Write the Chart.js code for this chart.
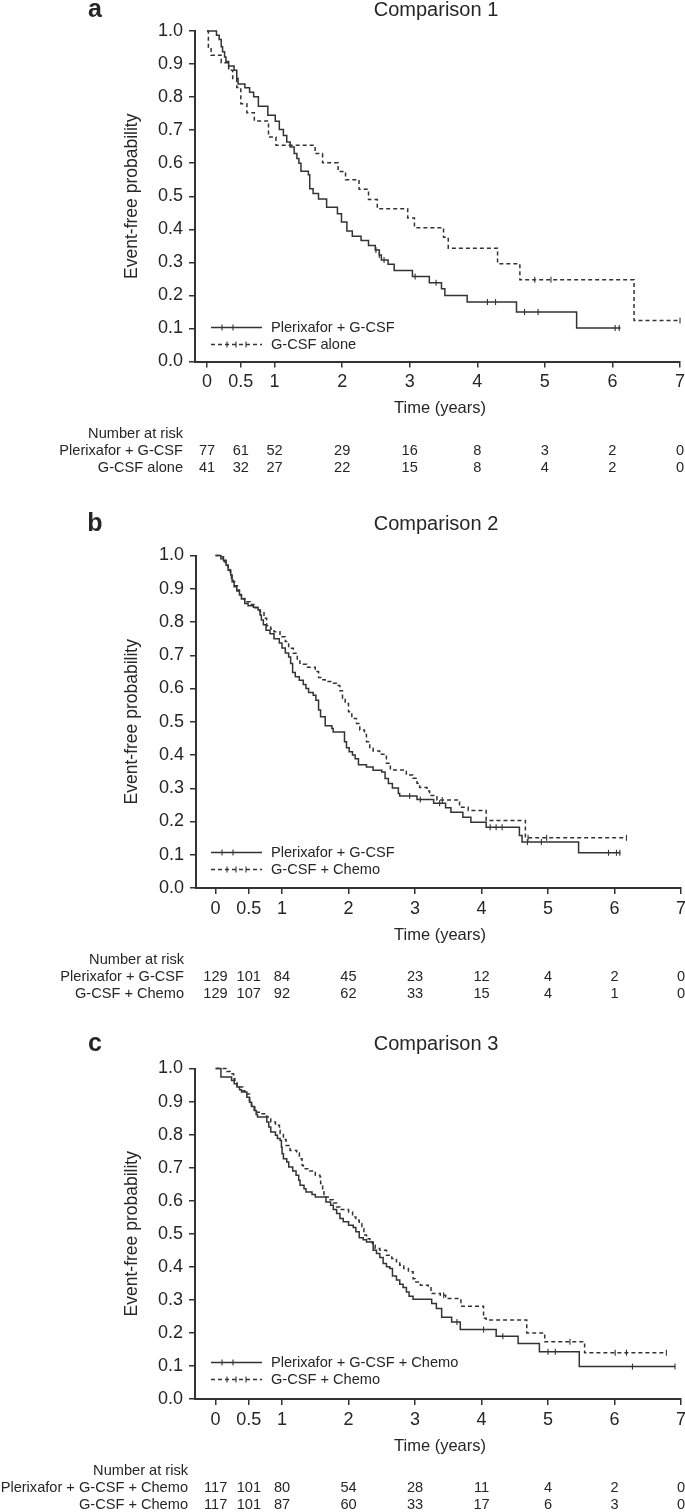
<!DOCTYPE html>
<html>
<head>
<meta charset="utf-8">
<script src="https://cdn.jsdelivr.net/npm/chart.js@4.4.1/dist/chart.umd.min.js"></script>
<style>
  body { margin: 0; background: #fff; }
  #wrap { width: 685px; height: 1512px; }
  canvas { display: block; }
</style>
</head>
<body>
<div id="wrap">
  <canvas id="panelA" width="685" height="500"></canvas>
  <canvas id="panelB" width="685" height="505"></canvas>
  <canvas id="panelC" width="685" height="507"></canvas>
</div>
<script>
const FONT = "'Liberation Sans', Arial, Helvetica, sans-serif";
const INK = '#262626';
const LINE = '#333';

// Time points used for x ticks and number-at-risk columns
const riskTimes = [0, 0.5, 1, 2, 3, 4, 5, 6, 7];

// Comparison 1
const aPlxTimes = [0, 0.14, 0.18, 0.21, 0.23, 0.26, 0.28, 0.32, 0.40, 0.44, 0.46, 0.56, 0.63, 0.69, 0.76, 0.90, 1.01, 1.07, 1.13, 1.18, 1.23, 1.29, 1.33, 1.36, 1.39, 1.50, 1.52, 1.57, 1.65, 1.77, 1.93, 1.99, 2.07, 2.15, 2.28, 2.39, 2.49, 2.55, 2.58, 2.68, 2.77, 3.04, 3.29, 3.47, 3.52, 3.85, 4.58, 5.47, 6.12];
const aPlxSurv = [1.0, 0.987, 0.974, 0.952, 0.937, 0.921, 0.908, 0.894, 0.881, 0.856, 0.840, 0.828, 0.815, 0.801, 0.772, 0.745, 0.727, 0.702, 0.684, 0.664, 0.649, 0.629, 0.614, 0.600, 0.576, 0.565, 0.523, 0.508, 0.492, 0.467, 0.447, 0.422, 0.395, 0.379, 0.366, 0.351, 0.337, 0.322, 0.307, 0.294, 0.275, 0.257, 0.238, 0.220, 0.200, 0.180, 0.150, 0.101, 0.101];
const aPlxCensored = [2.50, 2.55, 2.62, 3.08, 3.39, 4.15, 4.27, 4.70, 4.90, 6.04, 6.10];
const aCtlTimes = [0, 0.02, 0.06, 0.21, 0.32, 0.38, 0.44, 0.50, 0.59, 0.70, 0.91, 1.02, 1.60, 1.71, 1.94, 2.05, 2.25, 2.39, 2.52, 2.97, 3.07, 3.50, 3.57, 4.30, 4.63, 6.32, 7.0];
const aCtlSurv = [1.0, 0.951, 0.927, 0.904, 0.881, 0.856, 0.829, 0.780, 0.753, 0.728, 0.679, 0.654, 0.629, 0.601, 0.575, 0.550, 0.521, 0.490, 0.462, 0.434, 0.405, 0.376, 0.343, 0.296, 0.247, 0.124, 0.124];
const aCtlCensored = [4.85, 5.09, 7.0];
const aPlxRisk = [77, 61, 52, 29, 16, 8, 3, 2, 0];
const aCtlRisk = [41, 32, 27, 22, 15, 8, 4, 2, 0];

// Comparison 2
const bPlxTimes = [0, 0.08, 0.12, 0.16, 0.19, 0.23, 0.25, 0.28, 0.32, 0.36, 0.39, 0.44, 0.49, 0.57, 0.64, 0.67, 0.69, 0.72, 0.76, 0.82, 0.88, 0.96, 1.00, 1.05, 1.10, 1.13, 1.16, 1.20, 1.26, 1.32, 1.36, 1.40, 1.47, 1.51, 1.55, 1.58, 1.65, 1.75, 1.77, 1.94, 1.97, 2.01, 2.06, 2.10, 2.15, 2.27, 2.37, 2.50, 2.55, 2.60, 2.66, 2.75, 2.77, 3.03, 3.28, 3.46, 3.54, 3.72, 3.84, 4.07, 4.57, 4.61, 5.46, 6.09];
const bPlxSurv = [1.0, 0.996, 0.986, 0.971, 0.956, 0.941, 0.921, 0.906, 0.893, 0.881, 0.869, 0.856, 0.849, 0.844, 0.836, 0.821, 0.806, 0.792, 0.775, 0.765, 0.750, 0.737, 0.722, 0.707, 0.695, 0.675, 0.648, 0.635, 0.625, 0.612, 0.600, 0.588, 0.580, 0.565, 0.535, 0.515, 0.488, 0.480, 0.469, 0.440, 0.422, 0.410, 0.400, 0.389, 0.371, 0.364, 0.354, 0.349, 0.329, 0.314, 0.301, 0.284, 0.277, 0.266, 0.255, 0.241, 0.228, 0.213, 0.198, 0.183, 0.158, 0.138, 0.106, 0.106];
const bPlxCensored = [2.92, 3.08, 3.37, 4.13, 4.22, 4.31, 4.69, 4.90, 5.91, 6.03, 6.08];
const bCtlTimes = [0, 0.08, 0.13, 0.15, 0.19, 0.22, 0.24, 0.27, 0.29, 0.33, 0.36, 0.39, 0.44, 0.52, 0.59, 0.67, 0.73, 0.77, 0.83, 0.88, 0.97, 1.05, 1.10, 1.17, 1.23, 1.27, 1.37, 1.50, 1.55, 1.60, 1.65, 1.75, 1.82, 1.87, 1.91, 1.95, 2.00, 2.05, 2.12, 2.17, 2.24, 2.27, 2.32, 2.37, 2.47, 2.57, 2.63, 2.87, 2.97, 3.03, 3.07, 3.18, 3.22, 3.33, 3.67, 3.80, 4.07, 4.66, 6.18];
const bCtlSurv = [1.0, 0.990, 0.982, 0.971, 0.961, 0.946, 0.931, 0.921, 0.909, 0.896, 0.883, 0.871, 0.861, 0.853, 0.843, 0.831, 0.811, 0.789, 0.779, 0.771, 0.756, 0.741, 0.721, 0.706, 0.683, 0.673, 0.664, 0.651, 0.633, 0.626, 0.621, 0.616, 0.609, 0.593, 0.570, 0.555, 0.530, 0.510, 0.495, 0.475, 0.462, 0.440, 0.420, 0.412, 0.402, 0.375, 0.355, 0.340, 0.330, 0.315, 0.302, 0.292, 0.278, 0.265, 0.243, 0.233, 0.203, 0.151, 0.151];
const bCtlCensored = [3.41, 4.70, 4.98, 6.18];
const bPlxRisk = [129, 101, 84, 45, 23, 12, 4, 2, 0];
const bCtlRisk = [129, 107, 92, 62, 33, 15, 4, 1, 0];

// Comparison 3
const cPlxTimes = [0, 0.08, 0.24, 0.28, 0.32, 0.36, 0.39, 0.47, 0.51, 0.54, 0.58, 0.61, 0.63, 0.77, 0.80, 0.83, 0.90, 0.93, 0.97, 0.99, 1.00, 1.02, 1.07, 1.10, 1.16, 1.21, 1.25, 1.27, 1.33, 1.36, 1.45, 1.50, 1.66, 1.73, 1.77, 1.82, 1.87, 1.92, 2.00, 2.07, 2.11, 2.16, 2.22, 2.27, 2.37, 2.42, 2.47, 2.52, 2.57, 2.62, 2.66, 2.72, 2.77, 2.82, 2.87, 2.91, 2.97, 3.25, 3.32, 3.40, 3.55, 3.68, 4.22, 4.55, 4.87, 5.47, 6.91];
const cPlxSurv = [1.0, 0.974, 0.964, 0.954, 0.944, 0.936, 0.929, 0.913, 0.898, 0.885, 0.873, 0.861, 0.853, 0.838, 0.823, 0.808, 0.798, 0.788, 0.782, 0.762, 0.742, 0.727, 0.717, 0.702, 0.690, 0.677, 0.662, 0.647, 0.636, 0.626, 0.619, 0.611, 0.596, 0.586, 0.573, 0.561, 0.546, 0.536, 0.526, 0.519, 0.506, 0.488, 0.482, 0.475, 0.450, 0.440, 0.428, 0.410, 0.400, 0.395, 0.372, 0.360, 0.347, 0.337, 0.324, 0.311, 0.302, 0.289, 0.274, 0.247, 0.233, 0.210, 0.190, 0.168, 0.143, 0.098, 0.098];
const cPlxCensored = [3.63, 4.03, 4.32, 5.00, 5.11, 6.27, 6.91];
const cCtlTimes = [0, 0.17, 0.22, 0.27, 0.29, 0.32, 0.36, 0.41, 0.44, 0.51, 0.54, 0.59, 0.62, 0.67, 0.77, 0.83, 0.90, 0.96, 0.97, 1.02, 1.06, 1.12, 1.22, 1.26, 1.30, 1.32, 1.40, 1.50, 1.57, 1.58, 1.61, 1.63, 1.72, 1.77, 1.82, 1.87, 2.00, 2.06, 2.11, 2.16, 2.20, 2.23, 2.27, 2.32, 2.36, 2.40, 2.47, 2.57, 2.65, 2.72, 2.77, 2.83, 2.90, 2.97, 3.00, 3.08, 3.20, 3.24, 3.38, 3.46, 3.69, 4.03, 4.07, 4.68, 4.95, 5.55, 6.78];
const cCtlSurv = [1.0, 0.991, 0.984, 0.969, 0.958, 0.950, 0.944, 0.933, 0.923, 0.903, 0.888, 0.875, 0.868, 0.863, 0.853, 0.838, 0.828, 0.813, 0.803, 0.785, 0.767, 0.752, 0.744, 0.727, 0.707, 0.697, 0.690, 0.677, 0.672, 0.652, 0.627, 0.611, 0.603, 0.593, 0.581, 0.573, 0.566, 0.551, 0.541, 0.531, 0.516, 0.496, 0.485, 0.475, 0.465, 0.455, 0.450, 0.435, 0.425, 0.415, 0.405, 0.395, 0.385, 0.364, 0.354, 0.344, 0.339, 0.319, 0.314, 0.304, 0.281, 0.244, 0.239, 0.200, 0.173, 0.140, 0.140];
const cCtlCensored = [3.43, 5.33, 6.01, 6.18, 6.78];
const cPlxRisk = [117, 101, 80, 54, 28, 11, 4, 2, 0];
const cCtlRisk = [117, 101, 87, 60, 33, 17, 6, 3, 0];

function stepValue(times, surv, t) {
    let v = surv[0];
    for (let i = 0; i < times.length; i++) {
        if (times[i] <= t) v = surv[i];
    }
    return v;
}

function kmPoints(times, surv) {
    return times.map((t, i) => ({ x: t, y: surv[i] }));
}

function censorPoints(times, surv, cens) {
    return cens.map(c => ({ x: c, y: stepValue(times, surv, c) }));
}

// Draws panel letter, title, axis titles, in-plot legend and the number-at-risk table
function makeDecor(p) {
    return {
        id: 'panelDecor',
        afterDraw(chart) {
            const ctx = chart.ctx;
            const area = chart.chartArea;
            const xs = chart.scales.x;
            ctx.save();
            ctx.fillStyle = INK;
            ctx.textBaseline = 'middle';

            ctx.textAlign = 'center';
            ctx.font = `bold 25px ${FONT}`;
            ctx.fillText(p.letter, 95, p.titleY);
            ctx.font = `20px ${FONT}`;
            ctx.fillText(p.title, 436, p.titleY);

            ctx.font = `16.5px ${FONT}`;
            ctx.fillText('Time (years)', 440, area.bottom + 47);

            ctx.save();
            ctx.translate(132, (area.top + area.bottom) / 2);
            ctx.rotate(-Math.PI / 2);
            ctx.font = `17.5px ${FONT}`;
            ctx.fillText('Event-free probability', 0, 0);
            ctx.restore();

            // legend
            ctx.font = `14.6px ${FONT}`;
            ctx.textAlign = 'left';
            ctx.strokeStyle = LINE;
            p.legend.forEach((label, i) => {
                const y = Math.round(area.bottom + p.legendOffset + i * 17) + 0.5;
                ctx.lineWidth = 1.4;
                ctx.setLineDash(i === 0 ? [] : [4, 3]);
                ctx.beginPath();
                ctx.moveTo(211, y);
                ctx.lineTo(262, y);
                ctx.stroke();
                ctx.setLineDash([]);
                ctx.lineWidth = 1.1;
                const marks = i === 0 ? [222, 233] : [227, 236, 246];
                marks.forEach(mx => {
                    ctx.beginPath();
                    ctx.moveTo(mx, y - 3);
                    ctx.lineTo(mx, y + 3);
                    ctx.stroke();
                });
                ctx.fillText(label, 271, y);
            });

            // number at risk
            ctx.font = `14.6px ${FONT}`;
            ctx.textAlign = 'right';
            ctx.fillText('Number at risk', p.tableRight, area.bottom + 72);
            p.rows.forEach((row, r) => {
                const y = area.bottom + 89 + r * 17;
                ctx.textAlign = 'right';
                ctx.fillText(row.label, p.tableRight, y);
                ctx.textAlign = 'center';
                row.counts.forEach((n, i) => {
                    ctx.fillText(String(n), xs.getPixelForValue(riskTimes[i]), y);
                });
            });
            ctx.restore();
        }
    };
}

function buildPanel(id, p) {
    const canvas = document.getElementById(id);
    const W = canvas.width;
    const H = canvas.height;
    const axisGrid = {
        drawOnChartArea: false,
        drawTicks: true,
        tickLength: 6,
        color: LINE,
        lineWidth: 1.5
    };
    const axisBorder = { display: true, color: LINE, width: 2 };
    const censorStyle = {
        showLine: false,
        pointStyle: 'line',
        pointRotation: 90,
        pointRadius: 3,
        pointBorderColor: LINE,
        pointBorderWidth: 1.1,
        clip: false
    };

    return new Chart(canvas, {
        type: 'line',
        data: {
            datasets: [
                {
                    label: p.legend[0],
                    data: kmPoints(p.solidT, p.solidS),
                    stepped: true,
                    borderColor: LINE,
                    borderWidth: 1.5,
                    pointRadius: 0,
                    fill: false,
                    clip: false
                },
                {
                    label: p.legend[1],
                    data: kmPoints(p.dashT, p.dashS),
                    stepped: true,
                    borderColor: LINE,
                    borderWidth: 1.5,
                    borderDash: [4, 3],
                    pointRadius: 0,
                    fill: false,
                    clip: false
                },
                Object.assign({ data: censorPoints(p.solidT, p.solidS, p.solidC) }, censorStyle),
                Object.assign({ data: censorPoints(p.dashT, p.dashS, p.dashC) }, censorStyle)
            ]
        },
        options: {
            responsive: false,
            animation: false,
            events: [],
            layout: {
                autoPadding: false,
                padding: { left: 0, top: p.top, right: W - p.right, bottom: 0 }
            },
            plugins: {
                legend: { display: false },
                tooltip: { enabled: false }
            },
            scales: {
                x: {
                    type: 'linear',
                    min: p.xMin,
                    max: 7,
                    afterFit: s => {
                        s.height = H - p.bottom;
                        s.paddingLeft = 0;
                        s.paddingRight = 0;
                    },
                    afterBuildTicks: s => { s.ticks = riskTimes.map(v => ({ value: v })); },
                    grid: axisGrid,
                    border: axisBorder,
                    ticks: {
                        autoSkip: false,
                        maxRotation: 0,
                        padding: 4,
                        color: INK,
                        font: { family: FONT, size: 18 },
                        callback: v => String(v)
                    }
                },
                y: {
                    min: 0,
                    max: 1,
                    afterFit: s => {
                        s.width = p.left;
                        s.paddingTop = 0;
                        s.paddingBottom = 0;
                    },
                    grid: axisGrid,
                    border: axisBorder,
                    ticks: {
                        stepSize: 0.1,
                        padding: 6,
                        color: INK,
                        font: { family: FONT, size: 18 },
                        callback: v => v.toFixed(1)
                    }
                }
            }
        },
        plugins: [makeDecor(p)]
    });
}

buildPanel('panelA', {
    letter: 'a', title: 'Comparison 1', titleY: 10,
    top: 31, bottom: 361.5, left: 195, right: 680, xMin: -0.178, tableRight: 183, legendOffset: -35,
    solidT: aPlxTimes, solidS: aPlxSurv, solidC: aPlxCensored,
    dashT: aCtlTimes, dashS: aCtlSurv, dashC: aCtlCensored,
    legend: ['Plerixafor + G-CSF', 'G-CSF alone'],
    rows: [
        { label: 'Plerixafor + G-CSF', counts: aPlxRisk },
        { label: 'G-CSF alone', counts: aCtlRisk }
    ]
});

buildPanel('panelB', {
    letter: 'b', title: 'Comparison 2', titleY: 24,
    top: 55.5, bottom: 388, left: 196, right: 681, xMin: -0.293, tableRight: 184, legendOffset: -36,
    solidT: bPlxTimes, solidS: bPlxSurv, solidC: bPlxCensored,
    dashT: bCtlTimes, dashS: bCtlSurv, dashC: bCtlCensored,
    legend: ['Plerixafor + G-CSF', 'G-CSF + Chemo'],
    rows: [
        { label: 'Plerixafor + G-CSF', counts: bPlxRisk },
        { label: 'G-CSF + Chemo', counts: bCtlRisk }
    ]
});

buildPanel('panelC', {
    letter: 'c', title: 'Comparison 3', titleY: 39,
    top: 63.5, bottom: 394, left: 195, right: 681, xMin: -0.31, tableRight: 188, legendOffset: -37,
    solidT: cPlxTimes, solidS: cPlxSurv, solidC: cPlxCensored,
    dashT: cCtlTimes, dashS: cCtlSurv, dashC: cCtlCensored,
    legend: ['Plerixafor + G-CSF + Chemo', 'G-CSF + Chemo'],
    rows: [
        { label: 'Plerixafor + G-CSF + Chemo', counts: cPlxRisk },
        { label: 'G-CSF + Chemo', counts: cCtlRisk }
    ]
});
</script>
</body>
</html>
